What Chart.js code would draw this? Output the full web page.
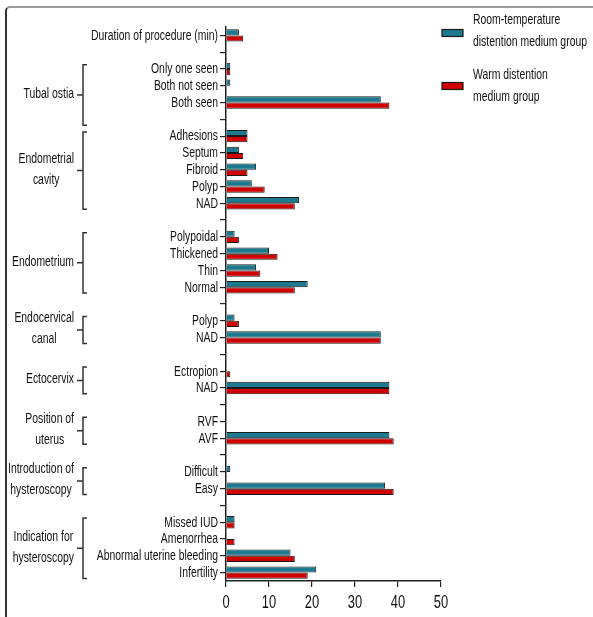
<!DOCTYPE html>
<html>
<head>
<meta charset="utf-8">
<script src="https://cdn.jsdelivr.net/npm/chart.js@4.4.1/dist/chart.umd.min.js"></script>
<style>
  html, body { margin: 0; padding: 0; background: #fff; }
  #wrap { position: relative; width: 593px; height: 617px; overflow: hidden; }
  #frame { position: absolute; left: 5px; top: 6px; width: 620px; height: 640px;
           border-top: 2px solid #9a9a9a; border-left: 2px solid #333; border-top-left-radius: 5px; box-sizing: border-box; }
  canvas { position: absolute; left: 0; top: 0; }
</style>
</head>
<body>
<div id="wrap">
  <div id="frame"></div>
  <canvas id="c" width="593" height="617"></canvas>
</div>
<script>
// ---- data ----
const categories = [
  'Duration of procedure (min)', '',
  'Only one seen', 'Both not seen', 'Both seen', '',
  'Adhesions', 'Septum', 'Fibroid', 'Polyp', 'NAD', '',
  'Polypoidal', 'Thickened', 'Thin', 'Normal', '',
  'Polyp', 'NAD', '',
  'Ectropion', 'NAD', '',
  'RVF', 'AVF', '',
  'Difficult', 'Easy', '',
  'Missed IUD', 'Amenorrhea', 'Abnormal uterine bleeding', 'Infertility'
];
const roomTemp = [
  3, null,
  1, 1, 36, null,
  5, 3, 7, 6, 17, null,
  2, 10, 7, 19, null,
  2, 36, null,
  0, 38, null,
  0, 38, null,
  1, 37, null,
  2, 0, 15, 21
];
const warm = [
  4, null,
  1, 0, 38, null,
  5, 4, 5, 9, 16, null,
  3, 12, 8, 16, null,
  3, 36, null,
  1, 38, null,
  0, 39, null,
  0, 39, null,
  2, 2, 16, 19
];
const seriesNames = [['Room-temperature', 'distention medium group'], ['Warm distention', 'medium group']];
const groupLabels = [
  ['Tubal ostia'], ['Endometrial', 'cavity'], ['Endometrium'], ['Endocervical', 'canal'],
  ['Ectocervix'], ['Position of', 'uterus'], ['Introduction of', 'hysteroscopy'], ['Indication for', 'hysteroscopy']
];
const groupFirst = [2, 6, 12, 17, 20, 23, 26, 29];
const groupLast  = [5, 10, 15, 18, 21, 24, 27, 32];
const xTicks = [0, 10, 20, 30, 40, 50];

// ---- styles ----
const FONT = '"Liberation Sans", Arial, sans-serif';
const TEAL = '#1b7a90';
const RED = '#d00000';
const EDGE = '#1a1a1a';
const INK = '#111';

// draws horizontally condensed text
function condText(ctx, text, x, y, align, sx) {
  const w = ctx.measureText(text).width * sx;
  let left = x;
  if (align === 'right') left = x - w;
  else if (align === 'center') left = x - w / 2;
  ctx.save();
  ctx.translate(left, y);
  ctx.scale(sx, 1);
  ctx.textAlign = 'left';
  ctx.fillText(text, 0, 0);
  ctx.restore();
}

const textPlugin = {
  id: 'texts',
  afterDraw(chart) {
    const ctx = chart.ctx;
    const y = chart.scales.y;
    const x = chart.scales.x;
    const step = y.getPixelForValue(1) - y.getPixelForValue(0);
    ctx.save();
    ctx.fillStyle = INK;
    ctx.textBaseline = 'middle';

    // y category labels
    ctx.font = '14px ' + FONT;
    const sxY = 127 / ctx.measureText('Duration of procedure (min)').width;
    categories.forEach((c, i) => {
      if (c) condText(ctx, c, 218, y.getPixelForValue(i) + 0.5, 'right', sxY);
    });

    // x tick labels
    ctx.font = '19px ' + FONT;
    const sxX = 0.68;
    xTicks.forEach(v => condText(ctx, String(v), x.getPixelForValue(v), 603, 'center', sxX));

    // group brackets and labels
    ctx.strokeStyle = '#333';
    ctx.lineWidth = 1.5;
    ctx.font = '14px ' + FONT;
    const sxG = 66 / ctx.measureText('Introduction of').width;
    groupLabels.forEach((lines, i) => {
      const top = y.getPixelForValue(groupFirst[i]) - 0.25 * step;
      const bot = y.getPixelForValue(groupLast[i]) + 0.35 * step;
      const mid = (top + bot) / 2;
      const bx = 83;
      ctx.beginPath();
      ctx.moveTo(bx + 4, top); ctx.lineTo(bx, top); ctx.lineTo(bx, bot); ctx.lineTo(bx + 4, bot);
      ctx.moveTo(bx - 6, mid); ctx.lineTo(bx, mid);
      ctx.stroke();
      const w = Math.max(...lines.map(l => ctx.measureText(l).width)) * sxG;
      const cx = 74 - w / 2;
      const lh = 21;
      lines.forEach((l, k) => {
        condText(ctx, l, cx, mid - 1 + (k - (lines.length - 1) / 2) * lh, 'center', sxG);
      });
    });

    // legend
    const colors = [TEAL, RED];
    const swY = [33, 86];
    const txY = [[20, 42], [75, 97]];
    ctx.font = '15px ' + FONT;
    const sxL = 114 / ctx.measureText('distention medium group').width;
    colors.forEach((c, i) => {
      ctx.fillStyle = c;
      ctx.fillRect(442, swY[i] - 3.5, 21, 7);
      ctx.lineWidth = 1.2;
      ctx.strokeStyle = EDGE;
      ctx.strokeRect(442, swY[i] - 3.5, 21, 7);
      ctx.fillStyle = INK;
      seriesNames[i].forEach((t, k) => condText(ctx, t, 473, txY[i][k], 'left', sxL));
    });
    ctx.restore();
  }
};

new Chart(document.getElementById('c'), {
  type: 'bar',
  data: {
    labels: categories,
    datasets: [
      { label: seriesNames[0].join(' '), data: roomTemp, backgroundColor: TEAL, borderColor: EDGE, borderWidth: 1, borderSkipped: 'start' },
      { label: seriesNames[1].join(' '), data: warm, backgroundColor: RED, borderColor: EDGE, borderWidth: 1, borderSkipped: 'start' }
    ]
  },
  options: {
    indexAxis: 'y',
    responsive: false,
    animation: false,
    devicePixelRatio: 1,
    layout: { padding: { left: 0, top: 27, right: 152, bottom: 0 } },
    datasets: { bar: { categoryPercentage: 0.74, barPercentage: 1.0 } },
    plugins: { legend: { display: false }, tooltip: { enabled: false } },
    scales: {
      x: {
        min: 0, max: 50,
        afterBuildTicks(scale) { scale.ticks = xTicks.map(v => ({ value: v })); },
        grid: { drawOnChartArea: false, drawTicks: true, tickLength: 6, color: '#222', lineWidth: 1.2 },
        border: { display: true, color: '#222', width: 1.5 },
        ticks: { display: false },
        afterFit(scale) { scale.height = 36; }
      },
      y: {
        grid: { drawOnChartArea: false, drawTicks: true, tickLength: 6, color: '#222', lineWidth: 1.2, offset: false },
        border: { display: true, color: '#222', width: 1.5 },
        ticks: { display: false, autoSkip: false },
        afterFit(scale) { scale.width = 226; }
      }
    }
  },
  plugins: [textPlugin]
});
</script>
</body>
</html>
